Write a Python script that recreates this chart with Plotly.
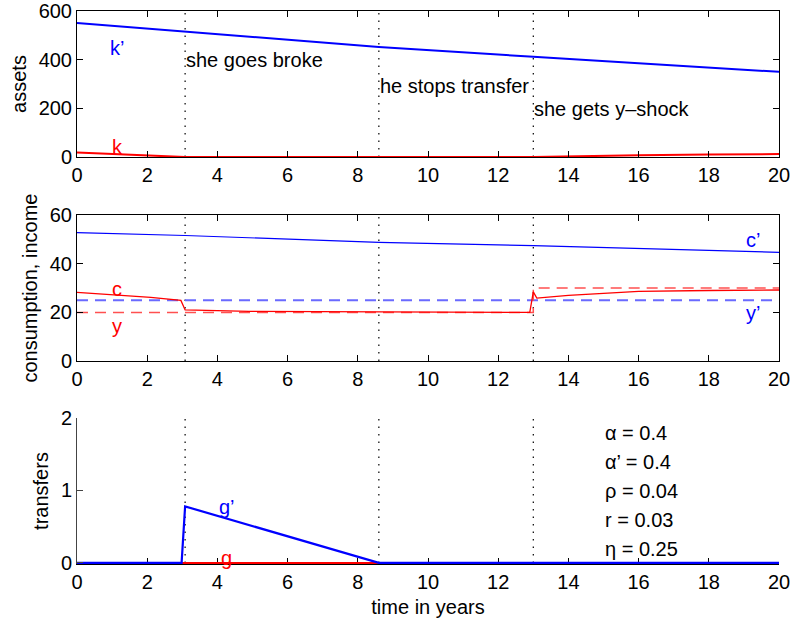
import plotly.graph_objects as go

# ---------------- data ----------------
events = [3.08, 8.6, 13.0]

t_kp = [0, 3.08, 8.6, 13.0, 20]
kp = [551, 516, 452, 412, 350]
t_k = [0, 1, 2, 3.08, 13.0, 14, 16, 18, 20]
k = [18, 13, 6, 0, 0, 3, 7, 10, 12]

t_cp = [0, 3.08, 8.6, 13.0, 20]
cp = [52.8, 51.6, 48.8, 47.4, 44.7]
t_c = [0, 2.1, 2.96, 3.08, 4.9, 8.6, 12.9, 13.0, 13.1, 14, 15, 16, 18, 20]
c = [28.2, 26.2, 24.9, 21.0, 20.4, 20.1, 20.0, 28.4, 25.9, 27.0, 27.9, 28.6, 29.0, 29.2]
t_y = [0, 13.0, 13.0, 20]
y = [20, 20, 30, 30]
t_yp = [0, 20]
yp = [25, 25]

t_gp = [0, 2.98, 3.08, 8.6, 20]
gp = [0, 0, 0.78, 0, 0]
t_g = [0, 20]
g = [0, 0]

params = ["α = 0.4", "α’ = 0.4", "ρ = 0.04", "r = 0.03", "η = 0.25"]
param_y = [1.79, 1.39, 0.99, 0.59, 0.19]

xticks = list(range(0, 21, 2))
yticks1 = [0, 200, 400, 600]
yticks2 = [0, 20, 40, 60]
yticks3 = [0, 1, 2]

FONT = "Liberation Sans, Arial, Helvetica, sans-serif"
FS = 20
BLUE = "#0000ff"
RED = "#ff0000"

fig = go.Figure()

def vlines(xa, ya, ylo, yhi):
    for e in events:
        fig.add_trace(go.Scatter(x=[e, e], y=[ylo, yhi], mode="lines", xaxis=xa, yaxis=ya,
                                 line=dict(color="#000000", width=1.2, dash="1.5px,6px"),
                                 showlegend=False, hoverinfo="skip"))

# subplot 1
vlines("x", "y", 0, 600)
fig.add_trace(go.Scatter(x=t_k, y=k, mode="lines", line=dict(color=RED, width=2), xaxis="x", yaxis="y", showlegend=False))
fig.add_trace(go.Scatter(x=t_kp, y=kp, mode="lines", line=dict(color=BLUE, width=2), xaxis="x", yaxis="y", showlegend=False))

# subplot 2
vlines("x2", "y2", 0, 60)
fig.add_trace(go.Scatter(x=t_cp, y=cp, mode="lines", line=dict(color=BLUE, width=1.2), xaxis="x2", yaxis="y2", showlegend=False))
fig.add_trace(go.Scatter(x=t_yp, y=yp, mode="lines", line=dict(color="#6a6aff", width=2, dash="11px,7px"), xaxis="x2", yaxis="y2", showlegend=False))
fig.add_trace(go.Scatter(x=t_y, y=y, mode="lines", line=dict(color="#ff5050", width=1.5, dash="11px,7px"), xaxis="x2", yaxis="y2", showlegend=False))
fig.add_trace(go.Scatter(x=t_c, y=c, mode="lines", line=dict(color=RED, width=1.3), xaxis="x2", yaxis="y2", showlegend=False))

# subplot 3
vlines("x3", "y3", 0, 2)
fig.add_trace(go.Scatter(x=t_g, y=g, mode="lines", line=dict(color=RED, width=2), xaxis="x3", yaxis="y3", showlegend=False))
fig.add_trace(go.Scatter(x=t_gp, y=gp, mode="lines", line=dict(color=BLUE, width=2.2), xaxis="x3", yaxis="y3", showlegend=False))

ann = []
def txt(x, yv, s, xr, yr, color="black", xanchor="center"):
    ann.append(dict(x=x, y=yv, text=s, xref=xr, yref=yr, showarrow=False, xanchor=xanchor,
                    yanchor="middle", font=dict(color=color, size=FS, family=FONT), borderpad=0))

txt(1.14, 448, "k’", "x", "y", BLUE)
txt(1.14, 40, "k", "x", "y", RED)
txt(3.08, 399, "she goes broke", "x", "y", xanchor="left")
txt(8.6, 292, "he stops transfer", "x", "y", xanchor="left")
txt(13.0, 197, "she gets y–shock", "x", "y", xanchor="left")

txt(1.14, 29.6, "c", "x2", "y2", RED)
txt(1.14, 14.2, "y", "x2", "y2", RED)
txt(19.26, 49.7, "c’", "x2", "y2", BLUE)
txt(19.26, 19.7, "y’", "x2", "y2", BLUE)

txt(4.27, 0.77, "g’", "x3", "y3", BLUE)
txt(4.27, 0.07, "g", "x3", "y3", RED)
for s, py in zip(params, param_y):
    txt(15.0, py, s, "x3", "y3", xanchor="left")

def xax(anchor, mirror, title=None, layer="above traces"):
    d = dict(range=[0, 20], tickvals=xticks, ticks="inside", ticklen=6, tickcolor="black",
             showline=True, linecolor="black", linewidth=1, mirror=mirror, showgrid=False,
             zeroline=False, anchor=anchor, automargin=False, layer=layer,
             ticklabeloverflow="allow",
             tickfont=dict(size=FS, family=FONT, color="black"))
    if title:
        d["title"] = dict(text=title, font=dict(size=FS, family=FONT, color="black"), standoff=7)
    return d

def yax(anchor, rng, tv, dom, title, mirror, standoff, linecolor="black"):
    return dict(range=rng, tickvals=tv, ticks="inside", ticklen=6, tickcolor=linecolor,
                showline=True, linecolor=linecolor, linewidth=1, mirror=mirror, showgrid=False,
                zeroline=False, anchor=anchor, domain=dom, automargin=False,
                ticklabeloverflow="allow",
                tickfont=dict(size=FS, family=FONT, color="black"),
                title=dict(text=title, font=dict(size=FS, family=FONT, color="black"), standoff=standoff))

fig.update_layout(
    width=792, height=620,
    margin=dict(l=77, r=13, t=11, b=56),
    paper_bgcolor="white", plot_bgcolor="white",
    font=dict(family=FONT, size=FS, color="black"),
    xaxis=xax("y", "ticks"),
    yaxis=yax("x", [0, 600], yticks1, [0.736, 1.0], "assets", "ticks", 6),
    xaxis2=xax("y2", "ticks"),
    yaxis2=yax("x2", [0, 60], yticks2, [0.367, 0.631], "consumption, income", "ticks", 6),
    xaxis3=xax("y3", False, "time in years", "below traces"),
    yaxis3=yax("x3", [-0.015, 2], yticks3, [0.0, 0.264], "transfers", False, 6, "#444444"),
    annotations=ann,
)
fig.write_html("out.html", config={"displayModeBar": False},
               post_script="document.body.style.margin='0';document.body.style.overflow='hidden';")
